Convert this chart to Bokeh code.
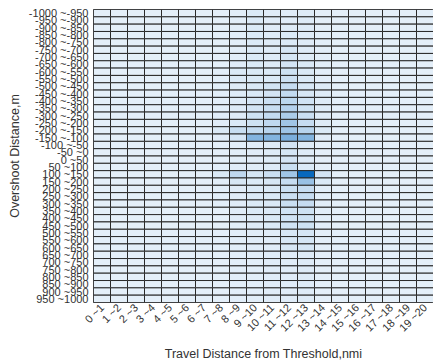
import math

from bokeh.embed import file_html
from bokeh.models import FactorRange, LinearColorMapper, ColumnDataSource
from bokeh.plotting import figure
from bokeh.resources import INLINE

# Travel distance bins (nmi) along x
x_bins = [f"{i} ~{i + 1}" for i in range(20)]

# Overshoot distance bins (m) along y, listed top to bottom
y_bins = [f"{a} ~{a + 50}" for a in range(-1000, 1000, 50)]

# Relative counts for columns 7~8 .. 13~14 in each overshoot bin (top to bottom);
# all other travel-distance columns are zero
cols_with_data = ["7 ~8", "8 ~9", "9 ~10", "10 ~11", "11 ~12", "12 ~13", "13 ~14"]
counts = [
    [0, 1, 4, 2, 2, 3, 0],
    [0, 1, 4, 2, 2, 3, 0],
    [0, 1, 4, 2, 3, 3, 0],
    [0, 1, 4, 3, 4, 3, 1],
    [0, 1, 4, 3, 4, 3, 1],
    [0, 1, 4, 3, 7, 3, 1],
    [0, 1, 4, 3, 7, 3, 1],
    [0, 2, 4, 3, 8, 5, 1],
    [1, 4, 5, 4, 10, 5, 1],
    [1, 4, 5, 4, 11, 5, 1],
    [1, 3, 5, 8, 14, 6, 3],
    [1, 3, 5, 8, 15, 6, 3],
    [1, 3, 7, 12, 18, 9, 3],
    [1, 3, 8, 13, 22, 10, 3],
    [2, 3, 10, 15, 26, 12, 3],
    [2, 4, 10, 17, 31, 14, 3],
    [5, 13, 15, 20, 32, 20, 4],
    [2, 7, 44, 44, 48, 44, 2],
    [0, 1, 2, 3, 8, 3, 0],
    [0, 1, 2, 3, 7, 3, 0],
    [0, 1, 2, 3, 8, 3, 0],
    [1, 2, 2, 3, 12, 4, 0],
    [5, 17, 7, 12, 31, 100, 8],
    [1, 6, 4, 6, 14, 34, 4],
    [1, 2, 4, 5, 12, 14, 1],
    [1, 2, 4, 5, 12, 14, 1],
    [1, 2, 4, 5, 12, 14, 1],
    [0, 2, 4, 5, 9, 10, 1],
    [0, 2, 3, 5, 9, 10, 1],
    [0, 1, 3, 4, 9, 10, 1],
    [0, 1, 2, 2, 6, 7, 0],
    [0, 1, 2, 2, 6, 7, 0],
    [0, 1, 2, 2, 6, 7, 0],
    [0, 1, 1, 2, 2, 3, 0],
    [0, 1, 1, 2, 2, 3, 0],
    [0, 1, 1, 2, 2, 3, 0],
    [0, 1, 1, 2, 2, 3, 0],
    [0, 1, 1, 2, 2, 3, 0],
    [0, 1, 1, 2, 2, 3, 0],
    [0, 1, 1, 2, 2, 3, 0],
]

# Build the long-form table of cells
xs, ys, vals = [], [], []
for yi, yb in enumerate(y_bins):
    for xb in x_bins:
        v = 0
        if xb in cols_with_data:
            v = counts[yi][cols_with_data.index(xb)]
        xs.append(xb)
        ys.append(yb)
        vals.append(v)
source = ColumnDataSource(dict(x=xs, y=ys, v=vals))

# Light-to-dark blue ramp
lo = (228, 239, 249)
hi = (8, 104, 189)
n = 256
palette = []
for k in range(n):
    t = k / (n - 1)
    r, g, b = (round(lo[j] + (hi[j] - lo[j]) * t) for j in range(3))
    palette.append(f"#{r:02x}{g:02x}{b:02x}")
mapper = LinearColorMapper(palette=palette, low=0, high=100)

p = figure(
    width=433,
    height=364,
    x_range=FactorRange(factors=x_bins),
    y_range=FactorRange(factors=list(reversed(y_bins))),
    output_backend="svg",
    toolbar_location=None,
    min_border_left=93,
    min_border_right=0,
    min_border_top=9,
    min_border_bottom=62,
)

p.rect(
    x="x", y="y", width=1, height=1, source=source,
    fill_color={"field": "v", "transform": mapper},
    line_color="#2a2a2a", line_width=1,
)

p.outline_line_color = "#2a2a2a"
p.grid.grid_line_color = None
p.x_range.range_padding = 0
p.y_range.range_padding = 0

font = "Liberation Sans"
for ax in (p.xaxis[0], p.yaxis[0]):
    ax.major_tick_line_color = None
    ax.minor_tick_line_color = None
    ax.major_tick_in = 0
    ax.major_tick_out = 0
    ax.minor_tick_in = 0
    ax.minor_tick_out = 0
    ax.axis_line_color = None
    ax.major_label_text_font = font
    ax.major_label_text_font_size = "11px"
    ax.major_label_text_color = "#333333"
    ax.axis_label_text_font = font
    ax.axis_label_text_font_size = "12.5px"
    ax.axis_label_text_font_style = "normal"
    ax.axis_label_text_color = "#333333"

p.xaxis.axis_label = "Travel Distance from Threshold,nmi"
p.yaxis.axis_label = "Overshoot Distance,m"
p.xaxis.major_label_orientation = math.pi / 4
p.xaxis.major_label_standoff = 3
p.yaxis.major_label_standoff = 5
p.xaxis.axis_label_standoff = 6
p.yaxis.axis_label_standoff = 4

open("out.html", "w").write(file_html(p, INLINE))
